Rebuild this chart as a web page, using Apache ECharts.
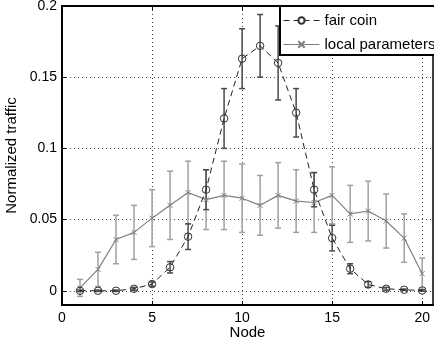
<!DOCTYPE html>
<html>
<head>
<meta charset="utf-8">
<script src="https://cdn.jsdelivr.net/npm/echarts@6/dist/echarts.min.js"></script>
<style>
  html, body { margin: 0; padding: 0; background: #fff; }
  #chart { width: 434px; height: 342px; }
</style>
</head>
<body>
<div id="chart"></div>
<script>
const nodes = [1, 2, 3, 4, 5, 6, 7, 8, 9, 10, 11, 12, 13, 14, 15, 16, 17, 18, 19, 20];
const fairCoin = [0, 0, 0, 0.0014, 0.0047, 0.0165, 0.038, 0.071, 0.121, 0.163,
  0.172, 0.160, 0.125, 0.071, 0.037, 0.0155, 0.0044, 0.0014, 0.0007, 0.0002];
const fairCoinErr = [0.0005, 0.0005, 0.0005, 0.001, 0.0015, 0.004, 0.009, 0.014, 0.021, 0.021,
  0.022, 0.026, 0.017, 0.012, 0.009, 0.0035, 0.002, 0.001, 0.0005, 0.0005];
const localParams = [0.002, 0.015, 0.036, 0.041, 0.051, 0.060, 0.069, 0.064, 0.067, 0.065,
  0.060, 0.067, 0.063, 0.062, 0.067, 0.054, 0.056, 0.049, 0.037, 0.012];
const localParamsErr = [0.006, 0.012, 0.017, 0.019, 0.020, 0.024, 0.022, 0.021, 0.024, 0.024,
  0.021, 0.023, 0.022, 0.021, 0.020, 0.020, 0.021, 0.019, 0.017, 0.011];
const yTicks = [0, 0.05, 0.1, 0.15, 0.2];

const font = "Liberation Sans, Arial, Helvetica, sans-serif";

function errorBars(name, means, errs, color) {
  return {
    type: "custom",
    name: name,
    silent: true,
    encode: { x: 0, y: [1, 2] },
    data: nodes.map((n, i) => [n, means[i] - errs[i], means[i] + errs[i]]),
    renderItem: function (params, api) {
      const x = api.value(0);
      const lo = api.coord([x, api.value(1)]);
      const hi = api.coord([x, api.value(2)]);
      const w = 3;
      const style = { stroke: color, lineWidth: 1.5 };
      return {
        type: "group",
        children: [
          { type: "line", shape: { x1: lo[0], y1: lo[1], x2: hi[0], y2: hi[1] }, style: style },
          { type: "line", shape: { x1: lo[0] - w, y1: lo[1], x2: lo[0] + w, y2: lo[1] }, style: style },
          { type: "line", shape: { x1: hi[0] - w, y1: hi[1], x2: hi[0] + w, y2: hi[1] }, style: style }
        ]
      };
    }
  };
}

const chart = echarts.init(document.getElementById("chart"));
chart.setOption({
  animation: false,
  backgroundColor: "#fff",
  grid: {
    left: 62, top: 6, right: 1, bottom: 37,
    outerBoundsMode: "none",
    containLabel: false,
    show: true, borderColor: "#000", borderWidth: 1.5
  },
  legend: {
    left: 280, top: 6,
    orient: "vertical",
    backgroundColor: "#fff",
    borderColor: "#000",
    borderWidth: 2,
    borderRadius: 0,
    padding: [7, 4, 3, 3],
    itemWidth: 36,
    itemHeight: 8,
    itemGap: 9,
    lineStyle: { width: 1 },
    textStyle: { fontFamily: font, fontSize: 15, color: "#000", lineHeight: 14 },
    data: ["fair coin", "local parameters"]
  },
  xAxis: [{
    type: "value",
    min: 0, max: 20.6, interval: 5,
    name: "Node",
    nameLocation: "middle",
    nameGap: 20,
    nameMoveOverlap: false,
    nameTextStyle: { fontFamily: font, fontSize: 15, color: "#000" },
    axisLine: { show: true, onZero: false, lineStyle: { color: "#000", width: 2 } },
    axisTick: { show: true, inside: true, length: 4, lineStyle: { color: "#000" } },
    axisLabel: { fontFamily: font, fontSize: 14, color: "#000", margin: 6, showMaxLabel: false },
    splitLine: { show: true, lineStyle: { color: "#444", type: [1, 3], width: 1 } }
  }, {
    type: "value",
    position: "top",
    min: 0, max: 20.6, interval: 5,
    axisLine: { show: true, onZero: false, lineStyle: { color: "#000", width: 2 } },
    axisTick: { show: true, inside: true, length: 4, lineStyle: { color: "#000" } },
    axisLabel: { show: false },
    splitLine: { show: false }
  }],
  yAxis: {
    type: "value",
    min: -0.01, max: 0.2,
    name: "Normalized traffic",
    nameLocation: "middle",
    nameGap: 43,
    nameMoveOverlap: false,
    nameTextStyle: { fontFamily: font, fontSize: 15, color: "#000" },
    axisLine: { show: true, onZero: false, lineStyle: { color: "#000", width: 2 } },
    axisTick: { show: true, inside: true, length: 4, customValues: yTicks, lineStyle: { color: "#000" } },
    axisLabel: { fontFamily: font, fontSize: 14, color: "#000", margin: 5, customValues: yTicks },
    splitLine: { show: true, lineStyle: { color: "#444", type: [1, 3], width: 1 } }
  },
  series: [
    errorBars("local err", localParams, localParamsErr, "#a0a0a0"),
    errorBars("fair err", fairCoin, fairCoinErr, "#4a4a4a"),
    {
      type: "line",
      name: "local parameters",
      data: nodes.map((n, i) => [n, localParams[i]]),
      symbol: "path://M0,0L10,10M10,0L0,10",
      symbolSize: 5,
      showSymbol: true,
      itemStyle: { color: "#808080", borderColor: "#808080", borderWidth: 1 },
      lineStyle: { color: "#808080", width: 1.2 }
    },
    {
      type: "line",
      name: "fair coin",
      data: nodes.map((n, i) => [n, fairCoin[i]]),
      symbol: "circle",
      symbolSize: 7.5,
      showSymbol: true,
      itemStyle: { color: "rgba(0,0,0,0)", borderColor: "#333", borderWidth: 1 },
      lineStyle: { color: "#222", width: 1, type: [6, 4] }
    }
  ]
});
</script>
</body>
</html>
